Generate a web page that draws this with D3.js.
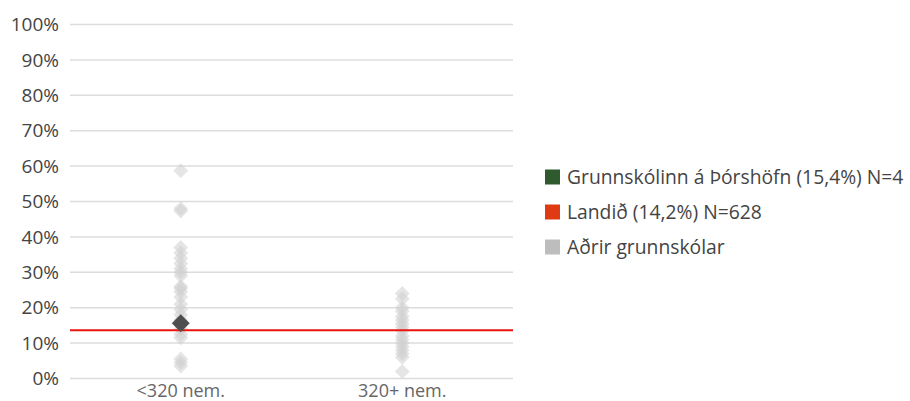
<!DOCTYPE html>
<html><head><meta charset="utf-8">
<script src="https://cdn.jsdelivr.net/npm/d3@7"></script>
<style>body{margin:0;background:#fff;font-family:"Open Sans","Noto Sans",sans-serif;}</style>
</head><body><svg id="c" width="910" height="401"></svg>
<script>
const categories = ["<320 nem.", "320+ nem."];
const yTicks = [0,10,20,30,40,50,60,70,80,90,100];
const otherSmall = [58.7,48,47.3,37,35.5,34,32.5,31,30,29,26,25.5,24.5,23,21,19.5,18,16.5,14,12.5,11.5,5.5,4.5,3.5];
const otherLarge = [24,22.5,20,19,17.5,16.5,15.5,14.5,13.5,12,11,10,9,8,7,6,2];
const schoolValue = [{cat:"<320 nem.", v:15.6}];
const nationalValue = 13.6;
const legendItems = ["Grunnskólinn á Þórshöfn (15,4%) N=4","Landið (14,2%) N=628","Aðrir grunnskólar"];
const legendColors = ["#2e5a2e","#e03a14","#bdbdbd"];

const svg = d3.select("#c");
const L=70,R=513,T=24.5,B=378.5;
const x = d3.scaleBand().domain(categories).range([L,R]);
const y = d3.scaleLinear().domain([0,100]).range([B,T]);

const g = svg.append("g");
g.selectAll("line.grid").data(yTicks).join("line")
 .attr("x1",L).attr("x2",R).attr("y1",d=>y(d)).attr("y2",d=>y(d))
 .attr("stroke","#dcdcdc").attr("stroke-width",1.5);
g.selectAll("text.yt").data(yTicks).join("text")
 .attr("x",59).attr("y",d=>y(d)).attr("dy","0.35em").attr("text-anchor","end")
 .attr("font-size",19).attr("fill","#444").text(d=>d+"%");
g.selectAll("text.xt").data(categories).join("text")
 .attr("x",d=>x(d)+x.bandwidth()/2).attr("y",397).attr("text-anchor","middle")
 .attr("font-size",18).attr("fill","#666").text(d=>d);

const diamond = d3.symbol().type(d3.symbolSquare).size(110);
const pts = otherSmall.map(v=>({cat:categories[0],v})).concat(otherLarge.map(v=>({cat:categories[1],v})));
g.selectAll("path.o").data(pts).join("path")
 .attr("d",diamond)
 .attr("transform",d=>`translate(${x(d.cat)+x.bandwidth()/2},${y(d.v)}) rotate(45)`)
 .attr("fill","#cfcfcf").attr("fill-opacity",0.55);

g.append("line").attr("x1",L).attr("x2",R).attr("y1",y(nationalValue)).attr("y2",y(nationalValue))
 .attr("stroke","#e8140c").attr("stroke-width",2);

g.selectAll("path.s").data(schoolValue).join("path")
 .attr("d",d3.symbol().type(d3.symbolSquare).size(160))
 .attr("transform",d=>`translate(${x(d.cat)+x.bandwidth()/2},${y(d.v)}) rotate(45)`)
 .attr("fill","#4f4f4f");

const lg = svg.append("g");
legendItems.forEach((t,i)=>{
  const yy = 177 + i*35;
  lg.append("rect").attr("x",545).attr("y",yy-7.5).attr("width",15).attr("height",15).attr("fill",legendColors[i]);
  lg.append("text").attr("x",567).attr("y",yy).attr("dy","0.35em").attr("font-size",19.3).attr("fill","#444").text(t);
});
</script></body></html>
